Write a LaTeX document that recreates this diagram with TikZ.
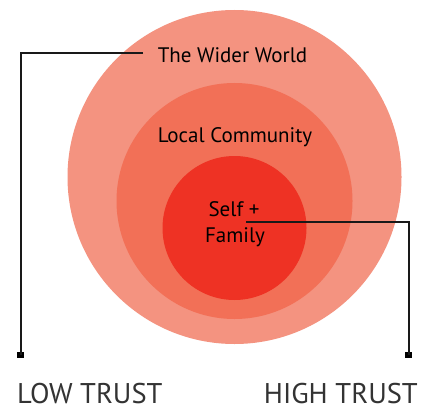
\documentclass[tikz,border=0pt]{standalone}
\usepackage{fontspec}
\setmainfont{PT Sans}
\begin{document}
\begin{tikzpicture}[x=1pt,y=-1pt,
  ring/.style={circle, draw=none, inner sep=0pt, fill=#1},
  label/.style={font=\fontsize{21}{26}\selectfont, text=black, inner sep=0pt, anchor=base},
  trust/.style={font=\fontsize{28.5}{30}\selectfont, text=black!80, inner sep=0pt},
  leader/.style={draw=black!90, line width=2pt},
  endsq/.style={rectangle, fill=black, inner sep=0pt, minimum size=6.5pt}]
  \definecolor{worldc}{RGB}{244,147,128}
  \definecolor{commc}{RGB}{242,112,87}
  \definecolor{selfc}{RGB}{238,50,36}
  \useasboundingbox (0,0) rectangle (427,406);
  \fill[white] (0,0) rectangle (427,406);

  % concentric trust circles
  \node[ring=worldc, minimum size=334pt] (world) at (234.5,177) {};
  \node[ring=commc, minimum size=236pt] (community) at (234.5,201) {};
  \node[ring=selfc, minimum size=144pt] (self) at (234.5,228) {};

  % circle labels
  \node[label] (worldlbl) at (232.5,62.3) {The Wider World};
  \node[label] (commlbl) at (235,142) {Local Community};
  \node[label] (selflbl) at (234,216.5) {Self +};
  \node[label] (familylbl) at (235,242.7) {Family};

  % leader lines ending in square markers
  \coordinate (lowstart) at (143,52.7);
  \coordinate (highstart) at (246,221.7);
  \node[endsq] (lowsq) at (20.7,355) {};
  \node[endsq] (highsq) at (408.7,355) {};
  \draw[leader] (lowstart) -| (lowsq.center);
  \draw[leader] (highstart) -| (highsq.center);

  % scale end labels
  \node[trust, anchor=base west] (low) at (17,403) {LOW TRUST};
  \node[trust, anchor=base east] (high) at (418,403) {HIGH TRUST};
\end{tikzpicture}
\end{document}
